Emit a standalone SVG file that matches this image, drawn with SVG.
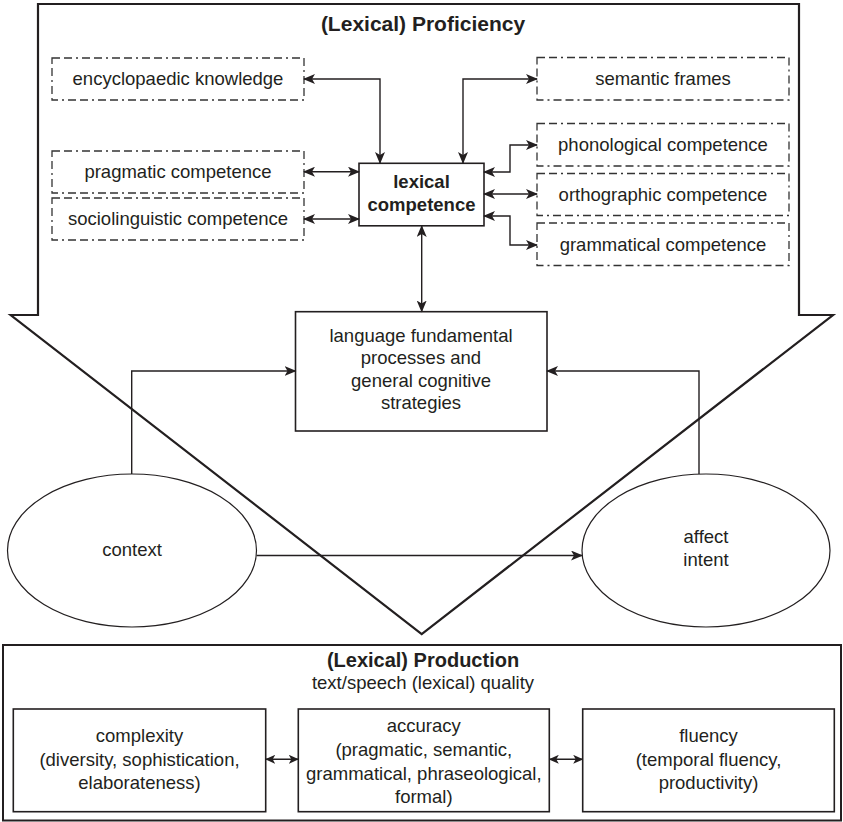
<svg xmlns="http://www.w3.org/2000/svg" width="843" height="822" viewBox="0 0 843 822">
<defs>
<style>
text{font-family:"Liberation Sans",Arial,sans-serif;fill:#231f20;text-anchor:middle;font-size:18.5px}
.b{font-weight:bold}
.solid{fill:#fff;stroke:#231f20;stroke-width:1.6}
.dash{fill:#fff;stroke:#333;stroke-width:1.3;stroke-dasharray:8 4 8 4 2 4}
.ell{fill:#fff;stroke:#231f20;stroke-width:1.2}
.c{fill:none;stroke:#231f20;stroke-width:1.4}
.a2{marker-start:url(#ah);marker-end:url(#ah)}
.a1{marker-end:url(#ah)}
.s2{marker-start:url(#sh);marker-end:url(#sh)}
</style>
<marker id="ah" viewBox="0 0 12 10" refX="11" refY="5" markerWidth="12" markerHeight="10" markerUnits="userSpaceOnUse" orient="auto-start-reverse">
<path d="M0,0 L12,5 L0,10 L3,5 z" fill="#231f20"/>
</marker>
<marker id="sh" viewBox="0 0 10 9" refX="9.5" refY="4.5" markerWidth="10" markerHeight="9" markerUnits="userSpaceOnUse" orient="auto-start-reverse">
<path d="M0,0 L10,4.5 L0,9 L2.5,4.5 z" fill="#231f20"/>
</marker>
</defs>

<g id="proficiency">
<path d="M38,4 H799 V315 H833 L421.7,634 L10.7,315 H38 Z" fill="#fff" stroke="#231f20" stroke-width="2.2" stroke-linejoin="miter"/>
<text class="b" x="423" y="30.5" style="font-size:21px">(Lexical) Proficiency</text>
</g>

<g id="production">
<rect x="3" y="645" width="838" height="175.5" fill="#fff" stroke="#231f20" stroke-width="2"/>
<text class="b" x="423" y="667" style="font-size:20px">(Lexical) Production</text>
<text x="423" y="689">text/speech (lexical) quality</text>
</g>

<g id="encyclopaedic">
<rect class="dash" x="52" y="58" width="252" height="42"/>
<text x="178" y="85">encyclopaedic knowledge</text>
</g>
<g id="pragmatic">
<rect class="dash" x="52" y="151" width="252" height="42"/>
<text x="178" y="178">pragmatic competence</text>
</g>
<g id="sociolinguistic">
<rect class="dash" x="52" y="198" width="252" height="42"/>
<text x="178" y="225">sociolinguistic competence</text>
</g>
<g id="semantic">
<rect class="dash" x="537" y="57.5" width="252" height="42.5"/>
<text x="663" y="85">semantic frames</text>
</g>
<g id="phonological">
<rect class="dash" x="537" y="123.5" width="252" height="42.5"/>
<text x="663" y="151">phonological competence</text>
</g>
<g id="orthographic">
<rect class="dash" x="537" y="173.5" width="252" height="42"/>
<text x="663" y="200.5">orthographic competence</text>
</g>
<g id="grammatical">
<rect class="dash" x="537" y="223" width="252" height="42.5"/>
<text x="663" y="250.5">grammatical competence</text>
</g>

<g id="lexical">
<rect class="solid" x="359" y="163.3" width="125" height="62.5"/>
<text class="b" x="421.5" y="188">lexical</text>
<text class="b" x="421.5" y="210.5">competence</text>
</g>

<g id="fundamental">
<rect class="solid" x="295.5" y="311.7" width="251.5" height="119.3"/>
<text x="421" y="341.5">language fundamental</text>
<text x="421" y="364">processes and</text>
<text x="421" y="386.5">general cognitive</text>
<text x="421" y="409">strategies</text>
</g>

<g id="context">
<ellipse class="ell" cx="132" cy="550.5" rx="124.5" ry="76.5"/>
<text x="132" y="556">context</text>
</g>
<g id="affect">
<ellipse class="ell" cx="706" cy="550.5" rx="124" ry="76.5"/>
<text x="706" y="543">affect</text>
<text x="706" y="566">intent</text>
</g>

<g id="complexity">
<rect class="solid" x="13.3" y="709" width="252.4" height="102.7"/>
<text x="139.5" y="741.5">complexity</text>
<text x="139.5" y="765.5">(diversity, sophistication,</text>
<text x="139.5" y="789">elaborateness)</text>
</g>
<g id="accuracy">
<rect class="solid" x="298.3" y="709" width="251" height="102.7"/>
<text x="423.8" y="731.5">accuracy</text>
<text x="423.8" y="755.5">(pragmatic, semantic,</text>
<text x="423.8" y="779.5">grammatical, phraseological,</text>
<text x="423.8" y="803">formal)</text>
</g>
<g id="fluency">
<rect class="solid" x="582.7" y="709" width="251.6" height="102.7"/>
<text x="708.5" y="741.5">fluency</text>
<text x="708.5" y="765.5">(temporal fluency,</text>
<text x="708.5" y="789">productivity)</text>
</g>

<g id="connectors">
<path class="c a2" d="M304,79 H380 V163"/>
<path class="c a2" d="M463,163 V79 H537"/>
<path class="c a2" d="M304,171.7 H359"/>
<path class="c a2" d="M304,219 H359"/>
<path class="c a2" d="M484,172 H510 V145 H537"/>
<path class="c a2" d="M484,194 H537"/>
<path class="c a2" d="M484,216 H510 V245 H537"/>
<path class="c a2" d="M421.7,226 V311.5"/>
<path class="c a1" d="M131.7,474 V371 H295.5"/>
<path class="c a1" d="M699,474 V371 H547"/>
<path class="c a1" d="M256.5,555.5 H582"/>
<path class="c s2" d="M265.7,759.3 H298.3"/>
<path class="c s2" d="M549.3,759.3 H582.7"/>
</g>
</svg>
